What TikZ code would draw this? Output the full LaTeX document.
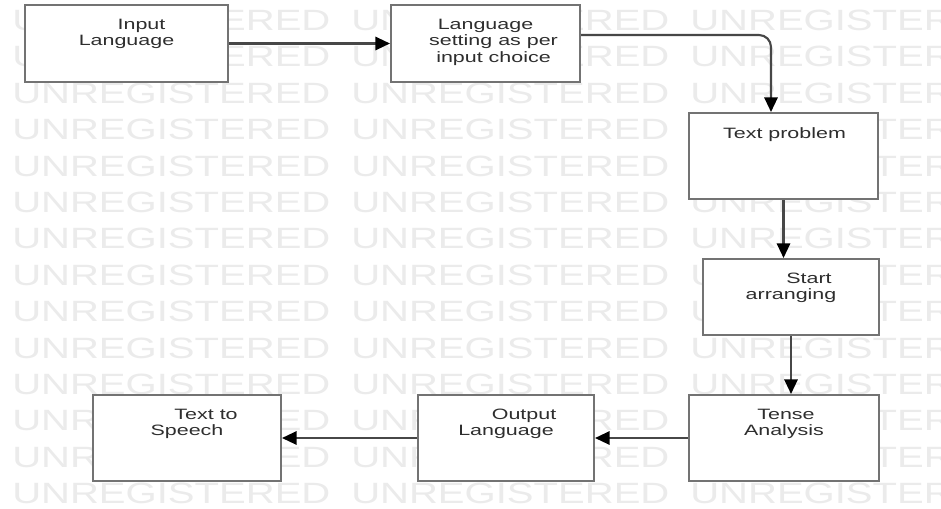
\documentclass[tikz,border=0pt]{standalone}
\usepackage{fontspec}
\setmainfont{Liberation Sans}
\usepackage{graphicx}
\usetikzlibrary{arrows.meta,calc}
\newcommand\tline[2]{\makebox[0pt][c]{\hspace*{#1pt}#2}}
\newcommand\btext[1]{\scalebox{1.43}[1]{\fontsize{11.25pt}{12.4pt}\selectfont\begin{tabular}[t]{@{}c@{}}#1\end{tabular}}}
\begin{document}
\begin{tikzpicture}[x=0.75pt,y=-0.75pt,
  bx/.style 2 args={draw=black!55, line width=1.5pt, fill=white, inner sep=0pt,
    minimum width=#1*0.75pt, minimum height=#2*0.75pt},
  txt/.style={inner sep=0pt, anchor=base, text=black!82},
  wm/.style={inner sep=0pt, anchor=base west, text=black!8, font=\fontsize{22pt}{22pt}\selectfont},
  conn/.style={draw=black!72, line width=1.6pt, -{Triangle[length=11pt,width=10pt,color=black]}}]
\useasboundingbox (0,0) rectangle (941,508);
\fill[white] (0,0) rectangle (941,508);
% watermark
\begin{scope}
\clip (0,0) rectangle (941,508);
\foreach \k in {0,...,13}{
  \foreach \j in {0,1,2}{
    \node[wm] (wm-\k-\j) at ({12+339*\j},{30.5+36.4*\k}) {\scalebox{1.365}[1]{UNREGISTERED}};
  }
}
\end{scope}
% boxes
\node[bx={203}{77}] (b1) at (126.5,43.5) {};
\node[bx={189}{77}] (b2) at (485.5,43.5) {};
\node[bx={189}{86}] (b3) at (783.5,156) {};
\node[bx={176}{76}] (b4) at (791,297) {};
\node[bx={190}{86}] (b5) at (784,438) {};
\node[bx={176}{86}] (b6) at (506,438) {};
\node[bx={188}{86}] (b7) at (187,438) {};
% texts
\node[txt] (t1) at (126.5,29) {\btext{\tline{15.7}{Input}\\\tline{0}{Language}}};
\node[txt] (t2) at (485.5,29) {\btext{\tline{0}{Language}\\\tline{8.4}{setting as per}\\\tline{8.4}{input choice}}};
\node[txt] (t3) at (784.5,138) {\btext{\tline{0}{Text problem}}};
\node[txt] (t4) at (791,283) {\btext{\tline{18.9}{Start}\\\tline{0}{arranging}}};
\node[txt] (t5) at (784,419) {\btext{\tline{2.1}{Tense}\\\tline{0}{Analysis}}};
\node[txt] (t6) at (506,419) {\btext{\tline{18.9}{Output}\\\tline{0}{Language}}};
\node[txt] (t7) at (187,419) {\btext{\tline{20}{Text to}\\\tline{0}{Speech}}};
% connectors
\coordinate (c2) at ($(b2.east)+(0,-8.5)$);
\coordinate (c3) at ($(b3.north)+(-12.5,0)$);
\draw[conn] (b1.east) -- (b2.west);
\draw[conn, rounded corners=9pt] (c2) -| (c3);
\draw[conn] (b3.south) -- (b3.south |- b4.north);
\draw[conn] (b4.south) -- (b4.south |- b5.north);
\draw[conn] (b5.west) -- (b6.east);
\draw[conn] (b6.west) -- (b7.east);
\end{tikzpicture}
\end{document}
